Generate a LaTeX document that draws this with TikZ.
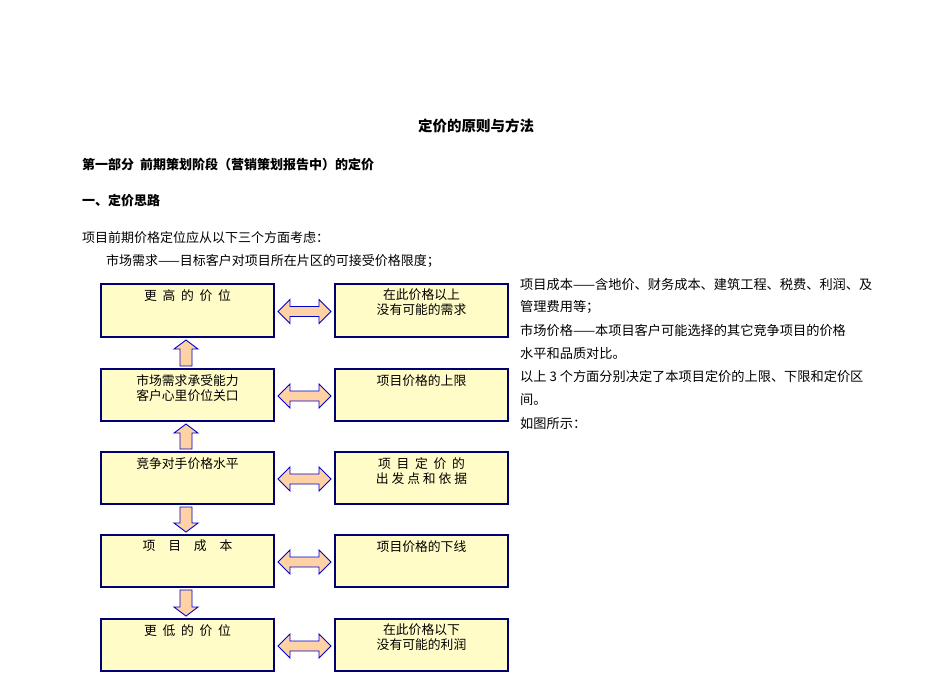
\documentclass[tikz,border=0pt]{standalone}
\usepackage{fontspec}
\setmainfont{Noto Sans CJK SC}
\begin{document}
\begin{tikzpicture}[x=1pt,y=-1pt,
  bx/.style={draw=blue!45!black,line width=1.2pt,fill=yellow!22!white},
  arr/.style={draw=blue!80!black,line width=0.9pt,fill=orange!35!white},
  tx/.style={font=\fontsize{13}{15}\selectfont,anchor=west,inner sep=0},
  bt/.style={font=\fontsize{12.8}{15}\selectfont,align=center,anchor=north,inner sep=0}]
\useasboundingbox (0,0) rectangle (950,672);
\node[font=\fontsize{14.5}{16}\selectfont\bfseries] (title) at (476,126) {定价的原则与方法};
\node[tx,font=\fontsize{13}{15}\selectfont\bfseries] (h1) at (82,165) {第一部分\ \ 前期策划阶段（营销策划报告中）的定价};
\node[tx,font=\fontsize{13}{15}\selectfont\bfseries] (h2) at (82,201) {一、定价思路};
\node[tx] (p1) at (82,238) {项目前期价格定位应从以下三个方面考虑：};
\node[tx] (p2) at (106,261) {市场需求——目标客户对项目所在片区的可接受价格限度；};
\foreach \t [count=\i] in {项目成本——含地价、财务成本、建筑工程、税费、利润、及,管理费用等；,市场价格——本项目客户可能选择的其它竞争项目的价格,水平和品质对比。,以上 3 个方面分别决定了本项目定价的上限、下限和定价区,间。,如图所示：}
  \node[tx,font=\fontsize{13.2}{15}\selectfont] (r\i) at (520,{284+23.2*(\i-1)}) {\t};
\foreach \n/\ya/\yb/\lt/\rt in {1/284/337/{更\ \ 高\ \ 的\ \ 价\ \ 位}/{在此价格以上\\没有可能的需求},
  2/369/421/{市场需求承受能力\\客户心里价位关口}/{项目价格的上限},
  3/452/504/{竞争对手价格水平}/{项\ \ 目\ \ 定\ \ 价\ \ 的\\出\ 发\ 点\ 和\ 依\ 据},
  4/535/587/{项\quad 目\quad 成\quad 本}/{项目价格的下线},
  5/619/671/{更\ \ 低\ \ 的\ \ 价\ \ 位}/{在此价格以下\\没有可能的利润}} {
  \draw[bx] (101,\ya) rectangle (274,\yb);
  \draw[bx] (335,\ya) rectangle (508,\yb);
  \node[bt] (L\n) at (187.5,\ya+5) {\lt};
  \node[bt] (R\n) at (421.5,\ya+5) {\rt};
  \pgfmathsetmacro\c{(\ya+\yb)/2+1}
  \draw[arr] (278,\c) -- (290,\c-12) -- (290,\c-5) -- (319,\c-5) -- (319,\c-12) -- (331,\c) -- (319,\c+12) -- (319,\c+5) -- (290,\c+5) -- (290,\c+12) -- cycle;
}
% up arrows
\foreach \t/\b in {340/366,424/449}
  \draw[arr] (186,\t) -- (198,\t+9) -- (192,\t+9) -- (192,\b) -- (180,\b) -- (180,\t+9) -- (174,\t+9) -- cycle;
% down arrows
\foreach \t/\b in {507/532,590/616}
  \draw[arr] (186,\b) -- (198,\b-9) -- (192,\b-9) -- (192,\t) -- (180,\t) -- (180,\b-9) -- (174,\b-9) -- cycle;
\end{tikzpicture}
\end{document}
